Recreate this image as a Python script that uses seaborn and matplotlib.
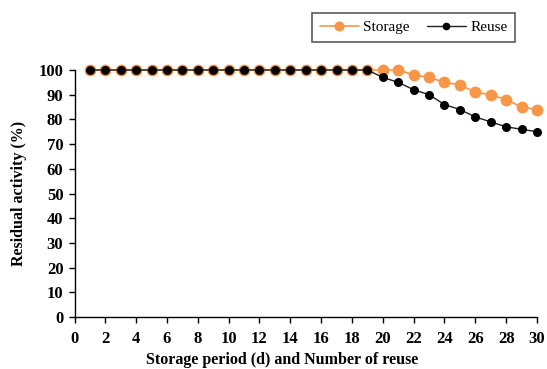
import numpy as np
import pandas as pd
import seaborn as sns
import matplotlib
matplotlib.use("Agg")
import matplotlib.pyplot as plt

# Residual activity over storage days / reuse cycles
days = list(range(1, 31))
storage = [100] * 19 + [100, 100, 98, 97, 95, 94, 91, 90, 88, 85, 84]
reuse = [100] * 19 + [97, 95, 92, 90, 86, 84, 81, 79, 77, 76, 75]
x_ticks = list(range(0, 31, 2))
y_ticks = list(range(0, 101, 10))

sns.set_theme(style="ticks")
plt.rcParams["font.family"] = ["Liberation Serif", "DejaVu Serif"]
plt.rcParams.update({"text.color": "black", "axes.labelcolor": "black",
                     "xtick.color": "black", "ytick.color": "black"})

df = pd.DataFrame({
    "x": days * 2,
    "value": storage + reuse,
    "series": ["Storage"] * len(days) + ["Reuse"] * len(days),
})

fig = plt.figure(figsize=(5.47, 3.69), dpi=100)
ax = fig.add_axes([0.1362, 0.1409, 0.8455, 0.6694])

orange = "#F79646"
sns.lineplot(data=df[df.series == "Storage"], x="x", y="value", ax=ax,
             color=orange, lw=1.2, marker="o", markersize=8.5,
             markeredgewidth=0, label="Storage", clip_on=False, zorder=3)
sns.lineplot(data=df[df.series == "Reuse"], x="x", y="value", ax=ax,
             color="#202020", lw=1.0, marker="o", markersize=6.5,
             markeredgewidth=0, label="Reuse", clip_on=False, zorder=4)
ax.lines[-1].set_markerfacecolor("black")

ax.set_xlim(0, 30)
ax.set_ylim(0, 100)
ax.set_xticks(x_ticks)
ax.set_yticks(y_ticks)
ax.tick_params(axis="both", direction="out", length=4, width=1,
               labelsize=12)
ax.tick_params(axis="x", pad=6)
ax.tick_params(axis="y", pad=4)
for lab in ax.get_xticklabels() + ax.get_yticklabels():
    lab.set_fontweight("bold")
for s in ["top", "right"]:
    ax.spines[s].set_visible(False)
for s in ["left", "bottom"]:
    ax.spines[s].set_color("black")
    ax.spines[s].set_linewidth(1)

ax.set_xlabel("Storage period (d) and Number of reuse", fontsize=11.5,
              fontweight="bold")
ax.xaxis.set_label_coords(0.449, -0.143)
ax.set_ylabel("Residual activity (%)", fontsize=11.5, fontweight="bold",
              labelpad=8)

leg = ax.legend(loc="center", bbox_to_anchor=(312 / 547, 1 - 44 / 369,
                                              203 / 547, 33 / 369),
                bbox_transform=fig.transFigure, ncol=2, mode="expand",
                frameon=True, fancybox=False, fontsize=11, handlelength=2.6,
                borderaxespad=0, columnspacing=1.2, handletextpad=0.25,
                borderpad=0.5)
leg.get_frame().set_edgecolor("#333333")
leg.get_frame().set_linewidth(1.2)
for h in leg.legend_handles:
    h.set_markersize(h.get_markersize() * 0.85)

fig.savefig("out.png", dpi=100)
